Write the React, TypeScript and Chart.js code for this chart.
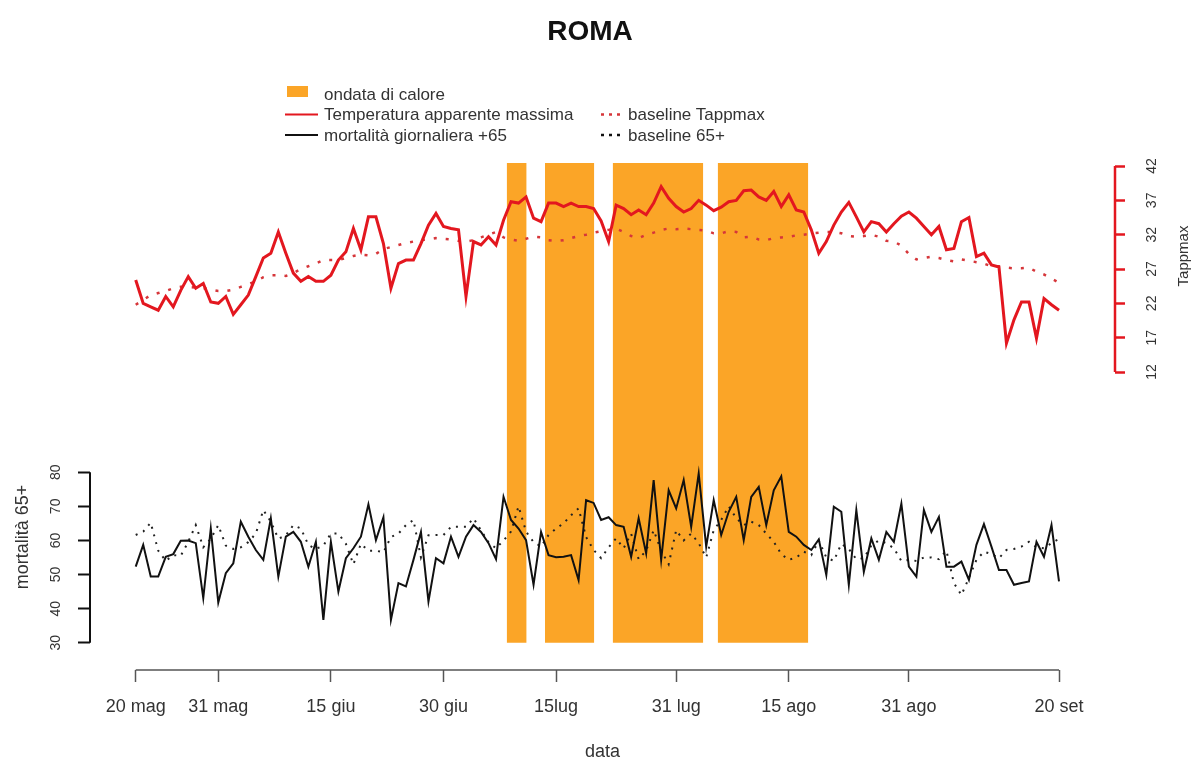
import React, { useEffect, useRef } from "react";
import { Chart, registerables } from "chart.js";

Chart.register(...registerables);

// ---------- data (days counted from 20 May) ----------
const X_TICK_DAYS = [0, 11, 26, 41, 56, 72, 87, 103, 123];
const X_TICK_LABELS = ["20 mag", "31 mag", "15 giu", "30 giu", "15lug", "31 lug", "15 ago", "31 ago", "20 set"];

const TAPP_TICKS = [12, 17, 22, 27, 32, 37, 42];
const MORT_TICKS = [30, 40, 50, 60, 70, 80];

// Temperatura apparente massima (daily)
const TAPPMAX = [
  25.4, 22.0, 21.5, 21.0, 23.0, 21.5, 23.9, 25.9, 24.2, 24.9,
  22.2, 22.0, 23.0, 20.4, 21.8, 23.2, 25.9, 28.6, 29.3, 32.4,
  29.3, 26.4, 25.2, 25.9, 25.2, 25.2, 26.1, 28.3, 29.5, 32.9,
  29.8, 34.6, 34.6, 30.7, 24.2, 27.8, 28.3, 28.3, 30.7, 33.4,
  35.1, 33.2, 32.9, 32.7, 23.0, 31.0, 30.5, 31.7, 30.5, 34.1,
  36.8, 36.6, 37.5, 34.4, 33.9, 36.6, 36.6, 36.1, 36.6, 36.1,
  36.1, 35.8, 34.0, 31.0, 36.3, 35.8, 34.9, 35.6, 34.9, 36.6,
  39.0, 37.3, 36.1, 35.3, 35.8, 37.0, 36.3, 35.5, 36.0, 36.8,
  37.0, 38.4, 38.5, 37.5, 37.0, 38.3, 36.1, 37.8, 35.6, 35.3,
  32.7, 29.3, 31.0, 33.4, 35.3, 36.7, 34.6, 32.4, 33.9, 33.6,
  32.4, 33.6, 34.7, 35.3, 34.4, 33.2, 32.0, 33.2, 29.8, 30.0,
  33.9, 34.5, 28.8, 29.3, 27.6, 27.3, 16.2, 19.6, 22.2, 22.2,
  16.9, 22.7, 21.8, 21.0,
];

// baseline Tappmax (daily)
const TAPPMAX_BASE = [
  21.8, 22.5, 23.2, 23.5, 23.8, 24.2, 24.4, 24.4, 24.3, 24.2,
  24.0, 23.8, 23.8, 24.0, 24.4, 24.8, 25.2, 25.8, 26.1, 26.1,
  26.0, 26.4, 27.0, 27.4, 27.8, 28.3, 28.3, 28.3, 28.6, 28.9,
  29.1, 29.0, 29.2, 29.9, 30.2, 30.5, 30.8, 31.0, 31.2, 31.3,
  31.5, 31.4, 31.3, 31.1, 31.0, 31.2, 31.6, 32.0, 32.4, 31.6,
  31.3, 31.1, 31.4, 31.7, 31.6, 31.2, 31.1, 31.2, 31.5, 31.8,
  32.0, 32.3, 32.5, 32.7, 32.9, 32.4, 31.8, 31.5, 32.0, 32.3,
  32.7, 32.9, 32.8, 32.9, 32.8, 32.7, 32.6, 32.2, 32.2, 32.5,
  32.4, 31.6, 31.7, 31.3, 31.2, 31.5, 31.6, 31.7, 31.9, 32.0,
  32.2, 32.3, 32.4, 32.4, 32.2, 31.8, 31.7, 31.8, 32.0, 31.7,
  31.1, 31.0, 30.4, 29.2, 28.4, 28.6, 28.8, 28.6, 28.3, 28.1,
  28.4, 28.2, 28.0, 27.8, 27.4, 27.4, 27.2, 27.1, 27.1, 27.2,
  26.6, 26.2, 25.6, 25.0,
];

// mortalità giornaliera +65 (daily)
const MORT65 = [
  52.3, 58.7, 49.4, 49.4, 55.2, 56.0, 59.9, 60.0, 59.2, 43.1,
  63.5, 41.8, 50.4, 53.3, 65.5, 61.1, 57.2, 54.3, 66.5, 49.4,
  61.1, 62.5, 59.6, 52.3, 59.6, 36.7, 59.6, 45.0, 54.8, 57.7,
  61.1, 70.6, 60.1, 66.8, 36.7, 47.5, 46.5, 54.3, 62.5, 42.1,
  54.8, 53.3, 61.1, 55.2, 61.1, 64.5, 62.5, 59.2, 54.5, 72.8,
  66.0, 63.5, 60.1, 47.0, 62.5, 55.7, 55.1, 55.2, 55.7, 48.4,
  71.8, 71.0, 66.0, 66.8, 64.5, 64.0, 55.2, 66.5, 56.2, 77.7,
  54.3, 74.7, 69.4, 77.7, 64.0, 79.6, 58.2, 71.8, 61.6, 68.4,
  72.8, 60.1, 72.8, 75.7, 64.5, 74.7, 78.8, 62.5, 61.1, 58.7,
  57.2, 60.3, 49.9, 69.9, 68.4, 47.0, 68.9, 50.8, 60.6, 54.3,
  62.5, 59.6, 70.8, 52.3, 49.4, 68.9, 62.5, 66.9, 52.3, 52.3,
  53.8, 48.4, 58.7, 64.8, 58.2, 51.3, 51.3, 47.0, 47.5, 48.0,
  59.6, 55.2, 64.5, 48.0,
];

// baseline 65+ (daily)
const MORT65_BASE = [
  61.6, 62.6, 65.2, 57.0, 54.0, 55.7, 55.5, 59.6, 64.5, 58.0,
  60.5, 64.5, 58.5, 57.5, 58.0, 59.5, 62.0, 68.9, 65.5, 60.5,
  61.5, 64.5, 63.5, 58.7, 57.5, 58.5, 62.0, 62.0, 59.0, 53.0,
  59.0, 57.0, 57.0, 56.5, 61.0, 62.0, 64.5, 66.0, 55.0, 61.5,
  61.6, 61.6, 64.0, 64.0, 64.0, 66.5, 63.0, 59.5, 57.7, 60.0,
  62.6, 70.0, 62.6, 59.5, 58.2, 61.6, 63.5, 65.0, 67.4, 69.4,
  61.0, 57.2, 54.8, 58.0, 60.6, 57.7, 62.0, 54.5, 57.0, 63.0,
  57.0, 53.0, 63.0, 60.0, 62.0, 59.2, 55.0, 63.0, 66.0, 70.0,
  66.5, 64.5, 65.5, 64.5, 62.0, 59.6, 56.0, 54.3, 55.0, 56.7,
  55.7, 60.0, 55.0, 54.0, 59.0, 57.5, 54.5, 54.8, 58.5, 60.0,
  59.2, 57.7, 54.0, 54.3, 54.0, 55.0, 55.0, 54.5, 57.0, 47.5,
  44.0, 49.0, 54.3, 56.7, 56.0, 54.8, 57.2, 57.5, 58.2, 59.6,
  58.0, 57.7, 59.2, 60.5,
];

// ondata di calore: start / end (days from 20 May)
const HEAT_START = [49.42, 54.52, 63.54, 77.53];
const HEAT_END = [52.08, 61.09, 75.61, 89.6];

const FONT = "'Liberation Sans', Arial, Helvetica, sans-serif";
const RED = "#E3171F";
const RED_BASE = "#D6363A";
const ORANGE = "#FBA527";
const TEXT = "#333333";

const toXY = (arr: number[]) => arr.map((y, i) => ({ x: i, y }));

const axisExtras = {
  id: "axisExtras",
  afterDraw(chart: any) {
    const { ctx, chartArea, scales } = chart;
    const x = scales.x;
    const yM = scales.yM;
    const yT = scales.yT;
    ctx.save();
    // left axis line
    ctx.strokeStyle = "#111";
    ctx.lineWidth = 2;
    ctx.beginPath();
    ctx.moveTo(chartArea.left, yM.getPixelForValue(MORT_TICKS[0]));
    ctx.lineTo(chartArea.left, yM.getPixelForValue(MORT_TICKS[MORT_TICKS.length - 1]));
    ctx.stroke();
    // right axis line
    ctx.strokeStyle = RED;
    ctx.lineWidth = 2.5;
    ctx.beginPath();
    ctx.moveTo(chartArea.right, yT.getPixelForValue(TAPP_TICKS[0]));
    ctx.lineTo(chartArea.right, yT.getPixelForValue(TAPP_TICKS[TAPP_TICKS.length - 1]));
    ctx.stroke();
    // bottom axis line
    ctx.strokeStyle = "#555";
    ctx.lineWidth = 1.5;
    ctx.beginPath();
    ctx.moveTo(x.getPixelForValue(X_TICK_DAYS[0]), chartArea.bottom);
    ctx.lineTo(x.getPixelForValue(X_TICK_DAYS[X_TICK_DAYS.length - 1]), chartArea.bottom);
    ctx.stroke();
    // axis titles
    ctx.fillStyle = TEXT;
    ctx.textAlign = "center";
    ctx.textBaseline = "middle";
    ctx.save();
    ctx.translate(23, 537);
    ctx.rotate(-Math.PI / 2);
    ctx.font = `18px ${FONT}`;
    ctx.fillText("mortalità 65+", 0, 0);
    ctx.restore();
    ctx.save();
    ctx.translate(1184, 256);
    ctx.rotate(-Math.PI / 2);
    ctx.font = `15px ${FONT}`;
    ctx.fillText("Tappmax", 0, 0);
    ctx.restore();
    ctx.restore();
  },
};

export default function App() {
  const ref = useRef<HTMLCanvasElement | null>(null);

  useEffect(() => {
    if (!ref.current) return;
    const heat = HEAT_START.map((s, i) => ({
      label: "ondata di calore",
      data: [
        { x: s, y: 170.7 },
        { x: HEAT_END[i], y: 170.7 },
      ],
      yAxisID: "yM",
      borderColor: "rgba(0,0,0,0)",
      borderWidth: 0,
      backgroundColor: ORANGE,
      fill: { value: 30 },
      pointRadius: 0,
      order: 10,
    }));
    const chart = new Chart(ref.current, {
      type: "line",
      data: {
        datasets: [
          {
            label: "Temperatura apparente massima",
            data: toXY(TAPPMAX),
            yAxisID: "yT",
            borderColor: RED,
            borderWidth: 3,
            pointRadius: 0,
            fill: false,
            order: 1,
          },
          {
            label: "baseline Tappmax",
            data: toXY(TAPPMAX_BASE),
            yAxisID: "yT",
            borderColor: RED_BASE,
            borderWidth: 2.5,
            borderDash: [3, 9],
            pointRadius: 0,
            fill: false,
            order: 2,
          },
          {
            label: "mortalità giornaliera +65",
            data: toXY(MORT65),
            yAxisID: "yM",
            borderColor: "#111",
            borderWidth: 2,
            pointRadius: 0,
            fill: false,
            order: 1,
          },
          {
            label: "baseline 65+",
            data: toXY(MORT65_BASE),
            yAxisID: "yM",
            borderColor: "#222",
            borderWidth: 2,
            borderDash: [2, 6],
            pointRadius: 0,
            fill: false,
            order: 2,
          },
          ...heat,
        ] as any,
      },
      options: {
        animation: false,
        responsive: false,
        devicePixelRatio: 1,
        events: [],
        layout: { padding: { top: 163, left: 0, right: 0, bottom: 0 } },
        plugins: {
          legend: { display: false },
          title: { display: false },
          tooltip: { enabled: false },
        },
        scales: {
          x: {
            type: "linear",
            position: "bottom",
            min: -6.09,
            max: 130.46,
            bounds: "data",
            afterFit: (s: any) => {
              s.height = 93;
            },
            afterBuildTicks: (s: any) => {
              s.ticks = X_TICK_DAYS.map((v) => ({ value: v }));
            },
            ticks: {
              autoSkip: false,
              minRotation: 0,
              maxRotation: 0,
              padding: 14,
              color: TEXT,
              font: { family: FONT, size: 18 },
              callback: (_v: any, i: number) => X_TICK_LABELS[i],
            },
            grid: { drawOnChartArea: false, drawTicks: true, tickLength: 12, color: "#555", tickWidth: 1.5 },
            border: { display: false },
            title: {
              display: true,
              text: "data",
              color: TEXT,
              font: { family: FONT, size: 18 },
              padding: { top: 0, bottom: 0 },
            },
          },
          yM: {
            type: "linear",
            position: "left",
            min: 22.0,
            max: 170.7,
            bounds: "data",
            afterFit: (s: any) => {
              s.width = 90;
            },
            afterBuildTicks: (s: any) => {
              s.ticks = MORT_TICKS.map((v) => ({ value: v }));
            },
            ticks: {
              autoSkip: false,
              minRotation: 90,
              maxRotation: 90,
              crossAlign: "center",
              padding: 13.7,
              color: TEXT,
              font: { family: FONT, size: 14 },
              callback: (v: any) => String(v),
            },
            grid: { drawOnChartArea: false, drawTicks: true, tickLength: 12, color: "#111", tickWidth: 2 },
            border: { display: false },
          },
          yT: {
            type: "linear",
            position: "right",
            min: -31.4,
            max: 42.44,
            bounds: "data",
            afterFit: (s: any) => {
              s.width = 80;
            },
            afterBuildTicks: (s: any) => {
              s.ticks = TAPP_TICKS.map((v) => ({ value: v }));
            },
            ticks: {
              autoSkip: false,
              minRotation: 90,
              maxRotation: 90,
              crossAlign: "center",
              padding: 19.7,
              color: TEXT,
              font: { family: FONT, size: 14 },
              callback: (v: any) => String(v),
            },
            grid: { drawOnChartArea: false, drawTicks: true, tickLength: 10, color: RED, tickWidth: 2.5 },
            border: { display: false },
          },
        },
      } as any,
      plugins: [axisExtras],
    });
    return () => chart.destroy();
  }, []);

  const rows = [94, 114.5, 135];
  return (
    <div style={{ position: "absolute", left: 0, top: 0, width: 1195, height: 763, background: "#fff" }}>
      <canvas ref={ref} width={1195} height={763} style={{ position: "absolute", left: 0, top: 0, width: 1195, height: 763 }} />
      <svg
        width={1195}
        height={763}
        style={{ position: "absolute", left: 0, top: 0, pointerEvents: "none" }}
        fontFamily={FONT}
      >
        <text x={590} y={40} textAnchor="middle" fontSize={28} fontWeight="bold" fill="#111">
          ROMA
        </text>
        <rect x={287} y={86} width={21} height={11} fill={ORANGE} />
        <line x1={285} x2={318} y1={rows[1]} y2={rows[1]} stroke={RED} strokeWidth={2} />
        <line x1={285} x2={318} y1={rows[2]} y2={rows[2]} stroke="#111" strokeWidth={2} />
        <line x1={601} x2={624} y1={rows[1]} y2={rows[1]} stroke={RED_BASE} strokeWidth={2.5} strokeDasharray="3,5" />
        <line x1={601} x2={624} y1={rows[2]} y2={rows[2]} stroke="#111" strokeWidth={2.5} strokeDasharray="3,5" />
        <g fontSize={17} fill={TEXT}>
          <text x={324} y={rows[0] + 5.5}>ondata di calore</text>
          <text x={324} y={rows[1] + 5.5}>Temperatura apparente massima</text>
          <text x={324} y={rows[2] + 5.5}>mortalità giornaliera +65</text>
          <text x={628} y={rows[1] + 5.5}>baseline Tappmax</text>
          <text x={628} y={rows[2] + 5.5}>baseline 65+</text>
        </g>
      </svg>
    </div>
  );
}
